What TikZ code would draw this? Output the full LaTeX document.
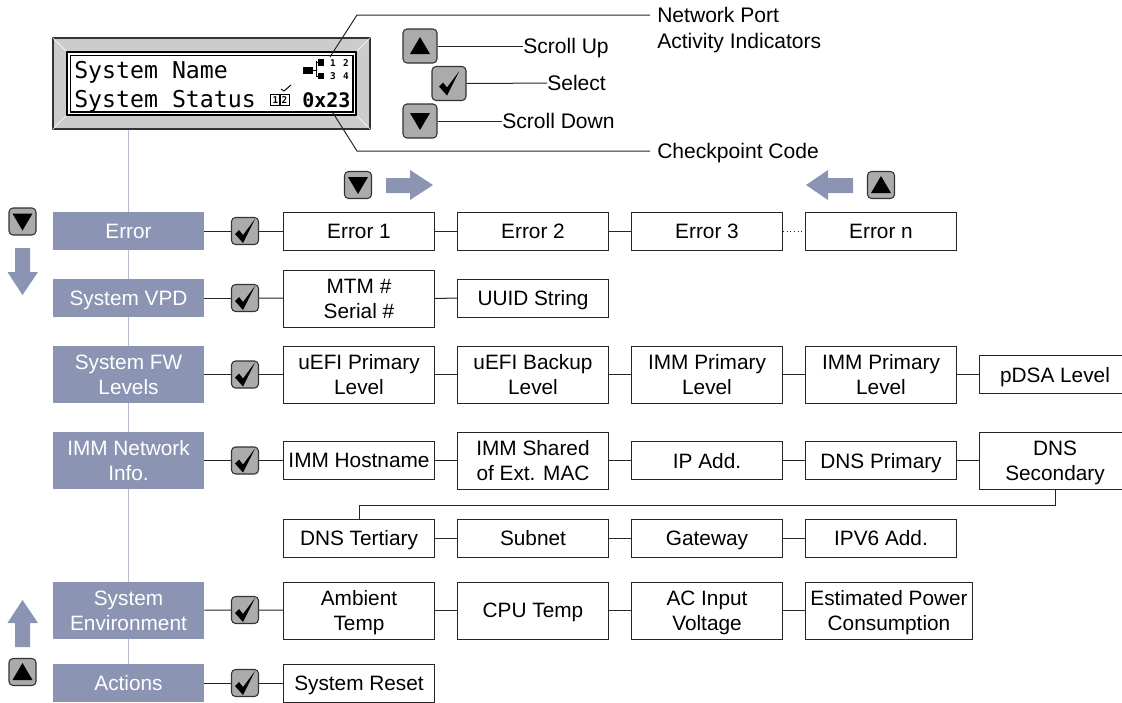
\documentclass[tikz,border=0pt]{standalone}
\usepackage{fontspec}
\setmainfont{Liberation Sans}
\newfontfamily\lcdfont{DejaVu Sans Mono}
\usepackage{xcolor}
\usetikzlibrary{calc, positioning}

\definecolor{menublue}{HTML}{8B94B3}
\definecolor{trunkblue}{HTML}{B4BAD0}
\definecolor{keygray}{HTML}{ABABAB}
\definecolor{framegray}{HTML}{CCCCCC}

\tikzset{
    menubox/.style={fill=menublue, text=white, minimum width=113.25pt, minimum height=#1*.75pt, inner sep=0pt, align=center, text depth=0pt, font=\fontsize{15.6}{18.8}\selectfont},
    itembox/.style={draw=black!85, line width=.75pt, fill=white, minimum width=113.25pt, minimum height=#1*.75pt, inner sep=0pt, align=center, text depth=0pt, font=\fontsize{15.6}{18.8}\selectfont},
    label/.style={inner sep=0pt, anchor=west, align=left, text depth=0pt, font=\fontsize{15.8}{19.5}\selectfont},
    keybtn/.style={draw=black!80, fill=keygray, line width=.8pt, rounded corners=3pt, minimum size=#1*.75pt, inner sep=0pt},
    upkey/.style={keybtn=#1, path picture={\fill[fill=black, sharp corners, shift={(path picture bounding box.center)}, scale=(#1-12)/22] (-10,8) -- (10,8) -- (0,-9) -- cycle;}},
    downkey/.style={keybtn=#1, path picture={\fill[fill=black, sharp corners, shift={(path picture bounding box.center)}, scale=(#1-12)/22] (-10,-8) -- (10,-8) -- (0,9) -- cycle;}},
    checkkey/.style={keybtn=#1, path picture={\fill[fill=black, sharp corners, shift={(path picture bounding box.center)}, scale=(#1-8)/26] (-10,3) -- (-6,-1) -- (-2,4) -- (10,-12) -- (-2,12) -- cycle;}},
    bigarrow/.style={fill=menublue},
    link/.style={draw=black!85, line width=.75pt},
    trunk/.style={draw=trunkblue, line width=.9pt},
    lcdtext/.style={inner sep=0pt, anchor=west, text depth=0pt, font=\lcdfont\fontsize{17.4}{17.4}\selectfont},
    lcdtiny/.style={inner sep=0pt, font=\lcdfont\bfseries\fontsize{7}{7}\selectfont}
}

\begin{document}
\begin{tikzpicture}[x=.75pt, y=-.75pt]
    \useasboundingbox (0,0) rectangle (1122,703);
    \clip (0,0) rectangle (1122,703);

    % display
    \node[draw=black!80, fill=framegray, line width=.8pt, minimum width=237.75pt, minimum height=68.25pt, inner sep=0pt] (lcd) at (211.5,83.5) {};
    \node[draw=black, fill=white, line width=1pt, minimum width=216.75pt, minimum height=47.25pt, inner sep=0pt] (screen) at (211.5,83.5) {};
    \node[draw=black, line width=1pt, minimum width=212pt, minimum height=42.5pt, inner sep=0pt] (screenin) at (211.5,83.5) {};
    \draw[white] (lcd.north west) -- (screen.north west);
    \draw[white] (lcd.north east) -- (screen.north east);
    \draw[white] (lcd.south west) -- (screen.south west);
    \draw[white] (lcd.south east) -- (screen.south east);
    \node[lcdtext] (sysname) at (74,70) {System Name};
    \node[lcdtext] (sysstatus) at (74,99) {System Status};
    \node[lcdtext, font=\lcdfont\bfseries\fontsize{15}{15}\selectfont] (code) at (302,100) {0x23};

    % port icon
    \fill (303,67) rectangle (313,74);
    \fill (318,59) rectangle (324,66);
    \fill (318,73) rectangle (324,79);
    \draw[line width=.7pt] (313,70) -- (316,70) (316,61) -- (316,77) (316,62) -- (318,62) (316,76) -- (318,76);
    \node[lcdtiny] (port1) at (333,63) {1};
    \node[lcdtiny] (port2) at (346,63) {2};
    \node[lcdtiny] (port3) at (333,76) {3};
    \node[lcdtiny] (port4) at (346,76) {4};

    % status icon
    \node[lcdtiny, draw=black, line width=.8pt, minimum width=7.5pt, minimum height=8.5pt] (stat1) at (275.5,100) {1};
    \node[lcdtiny, draw=black, line width=.8pt, minimum width=7.5pt, minimum height=8.5pt] (stat2) at (284.5,100) {2};
    \draw[line width=.7pt] (281,89) -- (284,91) -- (291,85);

    % callouts
    \coordinate (netpoint) at (330,57);
    \coordinate (netbend) at (357,15);
    \coordinate (netend) at (650,15);
    \coordinate (codepoint) at (333,113);
    \coordinate (codebend) at (357,151);
    \coordinate (codeend) at (650,151);
    \draw[link] (netpoint) -- (netbend) -- (netend);
    \draw[link] (codepoint) -- (codebend) -- (codeend);
    \node[label] (netlabel) at (657,28) {Network Port\\Activity Indicators};
    \node[label] (codelabel) at (657,151) {Checkpoint Code};

    % keys
    \node[upkey=34] (upkey) at (420,46) {};
    \node[checkkey=34] (selkey) at (449,83.5) {};
    \node[downkey=34] (downkey) at (420,121) {};
    \node[label] (uplabel) at (523,46) {Scroll Up};
    \node[label] (sellabel) at (547,83) {Select};
    \node[label] (downlabel) at (502,121) {Scroll Down};
    \draw[link] (upkey) -- (uplabel);
    \draw[link] (selkey) -- (sellabel);
    \draw[link] (downkey) -- (downlabel);

    % scroll hints
    \node[downkey=27] (rightkey) at (358,185) {};
    \node[upkey=27] (leftkey) at (881,185) {};
    \node[downkey=27] (sidedown) at (22.5,221.5) {};
    \node[upkey=27] (sideup) at (22.5,672) {};
    \fill[bigarrow] (386,178) -- (410,178) -- (410,170) -- (433,185) -- (410,200) -- (410,193) -- (386,193) -- cycle;
    \fill[bigarrow] (853,178) -- (828,178) -- (828,170) -- (806,185) -- (828,200) -- (828,193) -- (853,193) -- cycle;
    \fill[bigarrow] (15,248) -- (15,272) -- (7.5,272) -- (22.5,295) -- (38,272) -- (30,272) -- (30,248) -- cycle;
    \fill[bigarrow] (15,647) -- (15,623) -- (7.5,623) -- (22.5,600) -- (38,623) -- (30,623) -- (30,647) -- cycle;

    % menu column
    \node[menubox=38] (error) at (128.5,231) {Error};
    \node[menubox=38] (vpd) at (128.5,298) {System VPD};
    \node[menubox=57] (fw) at (128.5,374.5) {System FW\\Levels};
    \node[menubox=57] (imm) at (128.5,460.5) {IMM Network\\Info.};
    \node[menubox=57] (env) at (128.5,610.5) {System\\Environment};
    \node[menubox=38] (actions) at (128.5,683) {Actions};
    \draw[trunk] (lcd.south -| error.north) -- (error.north);
    \draw[trunk] (error) -- (vpd);
    \draw[trunk] (vpd) -- (fw);
    \draw[trunk] (fw) -- (imm);
    \draw[trunk] (imm) -- (env);
    \draw[trunk] (env) -- (actions);

    % select keys
    \node[checkkey=27] (errkey) at (245,231) {};
    \node[checkkey=27] (vpdkey) at (245,298) {};
    \node[checkkey=27] (fwkey) at (245,374.5) {};
    \node[checkkey=27] (immkey) at (245,460.5) {};
    \node[checkkey=27] (envkey) at (245,610) {};
    \node[checkkey=27] (actkey) at (245,683) {};

    % error row
    \node[itembox=38] (err1) at (359,231) {Error 1};
    \node[itembox=38] (err2) at (533,231) {Error 2};
    \node[itembox=38] (err3) at (707,231) {Error 3};
    \node[itembox=38] (errn) at (881,231) {Error n};
    \draw[link] (error) -- (errkey);
    \draw[link] (errkey) -- (err1);
    \draw[link] (err1) -- (err2);
    \draw[link] (err2) -- (err3);
    \draw[link, dotted] (err3) -- (errn);

    % vpd row
    \node[itembox=57] (mtm) at (359,298.5) {MTM \#\\Serial \#};
    \node[itembox=38] (uuid) at (533,298) {UUID String};
    \draw[link] (vpd) -- (vpdkey);
    \draw[link] (vpdkey) -- (mtm);
    \draw[link] (mtm) -- (uuid);

    % firmware row
    \node[itembox=57] (fw1) at (359,374.5) {uEFI Primary\\Level};
    \node[itembox=57] (fw2) at (533,374.5) {uEFI Backup\\Level};
    \node[itembox=57] (fw3) at (707,374.5) {IMM Primary\\Level};
    \node[itembox=57] (fw4) at (881,374.5) {IMM Primary\\Level};
    \node[itembox=38] (fw5) at (1055,374.5) {pDSA Level};
    \draw[link] (fw) -- (fwkey);
    \draw[link] (fwkey) -- (fw1);
    \draw[link] (fw1) -- (fw2);
    \draw[link] (fw2) -- (fw3);
    \draw[link] (fw3) -- (fw4);
    \draw[link] (fw4) -- (fw5);

    % network rows
    \node[itembox=38] (net1) at (359,460.5) {IMM Hostname};
    \node[itembox=57] (net2) at (533,460.5) {IMM Shared\\of Ext. MAC};
    \node[itembox=38] (net3) at (707,460.5) {IP Add.};
    \node[itembox=38] (net4) at (881,460.5) {DNS Primary};
    \node[itembox=57] (net5) at (1055,460.5) {DNS\\Secondary};
    \node[itembox=38] (net6) at (359,538) {DNS Tertiary};
    \node[itembox=38] (net7) at (533,538) {Subnet};
    \node[itembox=38] (net8) at (707,538) {Gateway};
    \node[itembox=38] (net9) at (881,538) {IPV6 Add.};
    \coordinate (wrapright) at (1055,505);
    \coordinate (wrapleft) at (359,505);
    \draw[link] (imm) -- (immkey);
    \draw[link] (immkey) -- (net1);
    \draw[link] (net1) -- (net2);
    \draw[link] (net2) -- (net3);
    \draw[link] (net3) -- (net4);
    \draw[link] (net4) -- (net5);
    \draw[link] (net5) -- (wrapright) -- (wrapleft) -- (net6);
    \draw[link] (net6) -- (net7);
    \draw[link] (net7) -- (net8);
    \draw[link] (net8) -- (net9);

    % environment row
    \node[itembox=57] (env1) at (359,610.5) {Ambient\\Temp};
    \node[itembox=57] (env2) at (533,610.5) {CPU Temp};
    \node[itembox=57] (env3) at (707,610.5) {AC Input\\Voltage};
    \node[itembox=57, minimum width=125.25pt] (env4) at (889,610.5) {Estimated Power\\Consumption};
    \draw[link] (env) -- (envkey);
    \draw[link] (envkey) -- (env1);
    \draw[link] (env1) -- (env2);
    \draw[link] (env2) -- (env3);
    \draw[link] (env3) -- (env4);

    % actions row
    \node[itembox=38] (reset) at (359,683) {System Reset};
    \draw[link] (actions) -- (actkey);
    \draw[link] (actkey) -- (reset);
\end{tikzpicture}
\end{document}
